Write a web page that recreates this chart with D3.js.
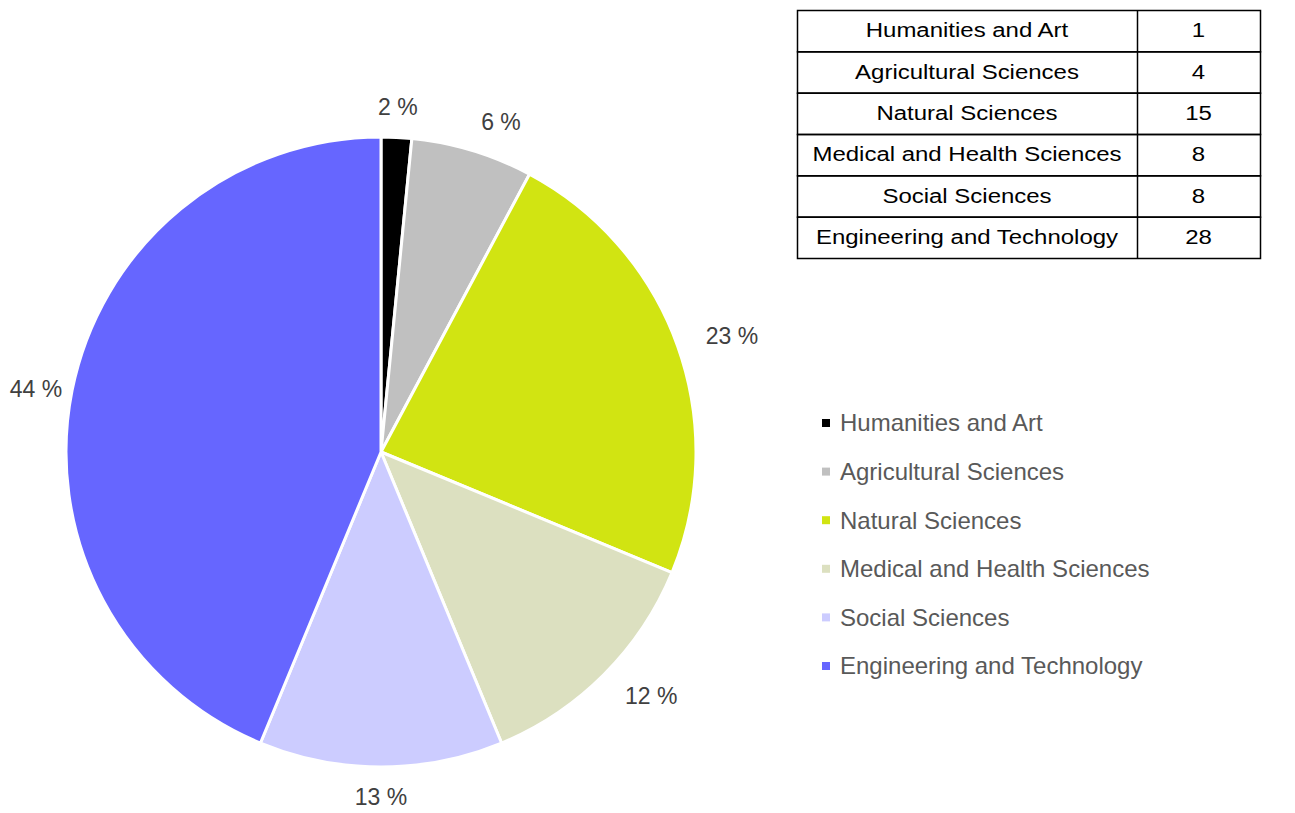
<!DOCTYPE html>
<html>
<head>
<meta charset="utf-8">
<script src="https://cdn.jsdelivr.net/npm/d3@7"></script>
<style>
  body { margin: 0; background: #fff; }
  text { font-family: "Liberation Sans", Arial, sans-serif; }
</style>
</head>
<body>
<div id="chart"></div>
<script>
// data
var categories = ["Humanities and Art", "Agricultural Sciences", "Natural Sciences",
  "Medical and Health Sciences", "Social Sciences", "Engineering and Technology"];
var counts = [1, 4, 15, 8, 8, 28];
var pctLabels = ["2 %", "6 %", "23 %", "12 %", "13 %", "44 %"];
var colors = ["#000000", "#c0c0c0", "#d1e412", "#dce0c0", "#ccccff", "#6666ff"];

var Width = 1295;
var Height = 813;

var svg = d3.select("#chart")
  .append("svg")
  .attr("width", Width)
  .attr("height", Height);

// pie
var cx = 381, cy = 452, radius = 315;
var rows = categories.map(function(c, i) {
  return { name: c, value: counts[i], label: pctLabels[i], color: colors[i] };
});

var pie = d3.pie().sort(null).value(function(d) { return d.value; });
var arc = d3.arc().innerRadius(0).outerRadius(radius);
var outerArc = d3.arc().innerRadius(345).outerRadius(345);
var leftArc = d3.arc().innerRadius(325).outerRadius(325);

var pieG = svg.append("g").attr("transform", "translate(" + cx + "," + cy + ")");

pieG.selectAll("path")
  .data(pie(rows))
  .enter()
  .append("path")
  .attr("d", arc)
  .attr("fill", function(d) { return d.data.color; })
  .attr("stroke", "#ffffff")
  .attr("stroke-width", 3)
  .attr("stroke-linejoin", "round");

// which side of the pie a label sits on
function side(d) {
  var s = Math.sin((d.startAngle + d.endAngle) / 2);
  if (s > 0.1) return 1;
  if (s < -0.1) return -1;
  return 0;
}

pieG.selectAll("text.pct")
  .data(pie(rows))
  .enter()
  .append("text")
  .attr("class", "pct")
  .attr("transform", function(d) {
    var p = side(d) < 0 ? leftArc.centroid(d) : outerArc.centroid(d);
    return "translate(" + p + ")";
  })
  .attr("text-anchor", function(d) {
    var s = side(d);
    return s > 0 ? "start" : (s < 0 ? "end" : "middle");
  })
  .attr("dy", "0.35em")
  .attr("font-size", 23)
  .attr("fill", "#404040")
  .text(function(d) { return d.data.label; });

// legend
var legendY = d3.scalePoint().domain(categories).range([423, 666]);
var legend = svg.append("g");
var li = legend.selectAll("g")
  .data(rows)
  .enter()
  .append("g")
  .attr("transform", function(d) { return "translate(822," + legendY(d.name) + ")"; });
li.append("rect")
  .attr("x", 0).attr("y", -4)
  .attr("width", 8).attr("height", 8)
  .attr("fill", function(d) { return d.color; });
li.append("text")
  .attr("x", 18)
  .attr("dy", "0.35em")
  .attr("font-size", 24)
  .attr("fill", "#595959")
  .text(function(d) { return d.name; });

// table (Excel text is drawn a bit wide, hence the x stretch)
var tx0 = 797, tx1 = 1137, tx2 = 1260;
var stretch = 1.23;
var tableY = d3.scaleBand().domain(categories).range([10, 258]);
var table = svg.append("g");
table.selectAll("rect")
  .data(rows)
  .enter()
  .append("rect")
  .attr("x", tx0 + 0.5)
  .attr("y", function(d) { return tableY(d.name) + 0.5; })
  .attr("width", tx2 - tx0)
  .attr("height", tableY.bandwidth())
  .attr("fill", "none")
  .attr("stroke", "#000")
  .attr("stroke-width", 1.5);
table.append("line")
  .attr("x1", tx1 + 0.5).attr("x2", tx1 + 0.5)
  .attr("y1", 10).attr("y2", 258)
  .attr("stroke", "#000").attr("stroke-width", 1.5);

function cellText(cls, xc, fn) {
  table.selectAll("text." + cls)
    .data(rows)
    .enter()
    .append("text")
    .attr("class", cls)
    .attr("transform", function(d) {
      return "translate(" + xc + "," + (tableY(d.name) + tableY.bandwidth() / 2) + ") scale(" + stretch + ",1)";
    })
    .attr("dy", "0.35em")
    .attr("text-anchor", "middle")
    .attr("font-size", 19.5)
    .attr("fill", "#000")
    .text(fn);
}
cellText("name", (tx0 + tx1) / 2, function(d) { return d.name; });
cellText("val", (tx1 + tx2) / 2, function(d) { return d.value; });
</script>
</body>
</html>
